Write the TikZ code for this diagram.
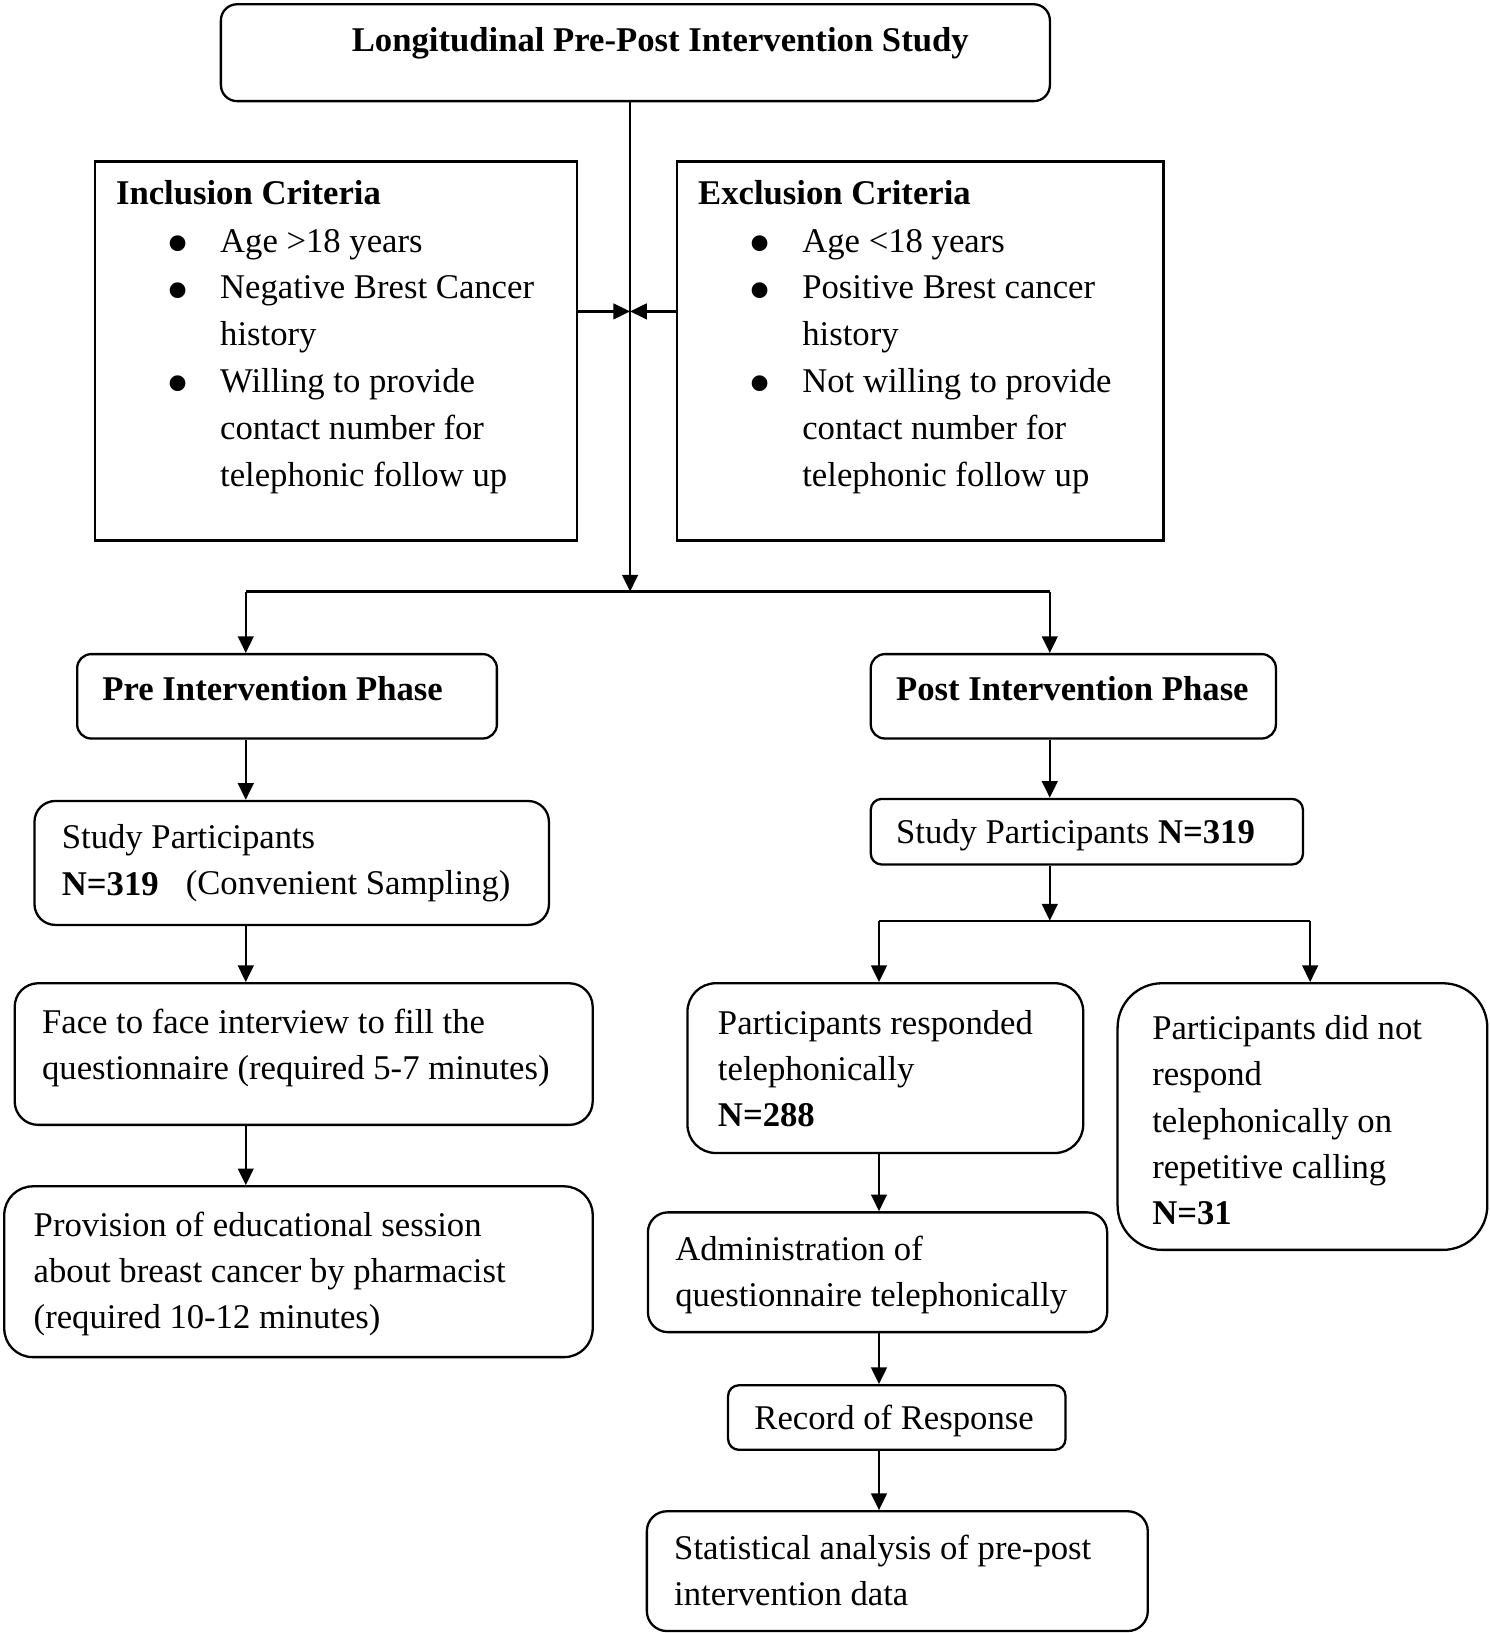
\documentclass[tikz,border=0pt]{standalone}
\usepackage{fontspec}
\usepackage{graphicx}
\setmainfont{Liberation Serif}
\usetikzlibrary{arrows.meta}
\newcommand{\mylines}[1]{\begin{tabular}[t]{@{}l@{}}#1\end{tabular}}
\newcommand{\mybullets}[1]{\begin{tabular}[t]{@{}p{26pt}@{}l@{}}#1\end{tabular}}
\newcommand{\bigbul}{\smash{\raisebox{-6.3pt}{\scalebox{1.9}{\textbullet}}}}
\begin{document}
\begin{tikzpicture}[x=0.5pt,y=-0.5pt,
  box/.style={draw, line width=1.1pt, inner sep=0pt, anchor=north west},
  txt/.style={inner sep=0pt, anchor=base west, font=\fontsize{16.65}{22.25}\selectfont},
  listtxt/.style={inner sep=0pt, anchor=base west, font=\fontsize{16.65}{22.5}\selectfont},
  conn/.style={line width=1.1pt},
  arr/.style={conn, -{Triangle[length=8pt,width=7.5pt]}}]
\useasboundingbox (0,0) rectangle (1430,1568);

% boxes
\node[box, minimum width=398pt, minimum height=46.5pt, rounded corners=7.75pt] (top) at (211,3) {};
\node[box, minimum width=231.5pt, minimum height=182pt] (incl) at (90,154) {};
\node[box, minimum width=233.5pt, minimum height=182pt] (excl) at (649,154) {};
\node[box, minimum width=201.5pt, minimum height=40.5pt, rounded corners=6.75pt] (pre) at (73,627) {};
\node[box, minimum width=194.5pt, minimum height=40.5pt, rounded corners=6.75pt] (post) at (835,627) {};
\node[box, minimum width=247pt, minimum height=59.5pt, rounded corners=10pt] (studyL) at (32,768) {};
\node[box, minimum width=277.5pt, minimum height=68pt, rounded corners=11.3pt] (face) at (13,943) {};
\node[box, minimum width=282.5pt, minimum height=82pt, rounded corners=13.7pt] (prov) at (3,1138) {};
\node[box, minimum width=207.5pt, minimum height=31.5pt, rounded corners=5.25pt] (studyR) at (835,766) {};
\node[box, minimum width=190pt, minimum height=81.5pt, rounded corners=13.6pt] (resp) at (659,943) {};
\node[box, minimum width=177.5pt, minimum height=128pt, rounded corners=21.3pt] (noresp) at (1072,943) {};
\node[box, minimum width=220.5pt, minimum height=57.5pt, rounded corners=9.6pt] (admin) at (621,1163) {};
\node[box, minimum width=162pt, minimum height=31pt, rounded corners=5.2pt] (record) at (698,1329) {};
\node[box, minimum width=240.5pt, minimum height=57.5pt, rounded corners=9.6pt] (stat) at (620,1450) {};

% texts
\node[txt, anchor=base] (ttop) at (634,49) {\textbf{Longitudinal Pre-Post Intervention Study}};
\node[txt] (tinclh) at (111,196) {\textbf{Inclusion Criteria}};
\node[listtxt] (tincl) at (159,242) {\mybullets{\bigbul & Age >18 years\\ \bigbul & Negative Brest Cancer\\ & history\\ \bigbul & Willing to provide\\ & contact number for\\ & telephonic follow up}};
\node[txt] (texclh) at (670,196) {\textbf{Exclusion Criteria}};
\node[listtxt] (texcl) at (718,242) {\mybullets{\bigbul & Age <18 years\\ \bigbul & Positive Brest cancer\\ & history\\ \bigbul & Not willing to provide\\ & contact number for\\ & telephonic follow up}};
\node[txt] (tpre) at (98,673) {\textbf{Pre Intervention Phase}};
\node[txt] (tpost) at (860,673) {\textbf{Post Intervention Phase}};
\node[txt] (tstudyL) at (59,815) {\mylines{Study Participants\\ \textbf{N=319}}};
\node[txt] (tconv) at (178,859) {(Convenient Sampling)};
\node[txt] (tface) at (40,992) {\mylines{Face to face interview to fill the\\ questionnaire (required 5-7 minutes)}};
\node[txt] (tprov) at (32,1187) {\mylines{Provision of educational session\\ about breast cancer by pharmacist\\ (required 10-12 minutes)}};
\node[txt] (tstudyR) at (860,810) {Study Participants \textbf{N=319}};
\node[txt] (tresp) at (689,993) {\mylines{Participants responded\\ telephonically\\ \textbf{N=288}}};
\node[txt] (tnoresp) at (1106,998) {\mylines{Participants did not\\ respond\\ telephonically on\\ repetitive calling\\ \textbf{N=31}}};
\node[txt] (tadmin) at (648,1210) {\mylines{Administration of\\ questionnaire telephonically}};
\node[txt] (trecord) at (724,1373) {Record of Response};
\node[txt] (tstat) at (647,1497) {\mylines{Statistical analysis of pre-post\\ intervention data}};

% connector points
\coordinate (jA) at (605,568);
\coordinate (jM) at (605,299);
\coordinate (bL) at (236,568);
\coordinate (bR) at (1008,568);
\coordinate (cR) at (1008,884);
\coordinate (cL) at (844,884);
\coordinate (cRR) at (1258,884);

% connectors
\draw[arr] (top.south -| jA) -- (jA);
\draw[arr] (incl.east |- jM) -- (jM);
\draw[arr] (excl.west |- jM) -- (jM);
\draw[conn] (bL) -- (bR);
\draw[arr] (bL) -- (pre.north -| bL);
\draw[arr] (bR) -- (post.north -| bR);
\draw[arr] (pre.south -| bL) -- (studyL.north -| bL);
\draw[arr] (studyL.south -| bL) -- (face.north -| bL);
\draw[arr] (face.south -| bL) -- (prov.north -| bL);
\draw[arr] (post.south -| bR) -- (studyR.north -| bR);
\draw[arr] (studyR.south -| bR) -- (cR);
\draw[conn] (cL) -- (cRR);
\draw[arr] (cL) -- (resp.north -| cL);
\draw[arr] (cRR) -- (noresp.north -| cRR);
\draw[arr] (resp.south -| cL) -- (admin.north -| cL);
\draw[arr] (admin.south -| cL) -- (record.north -| cL);
\draw[arr] (record.south -| cL) -- (stat.north -| cL);
\end{tikzpicture}
\end{document}
